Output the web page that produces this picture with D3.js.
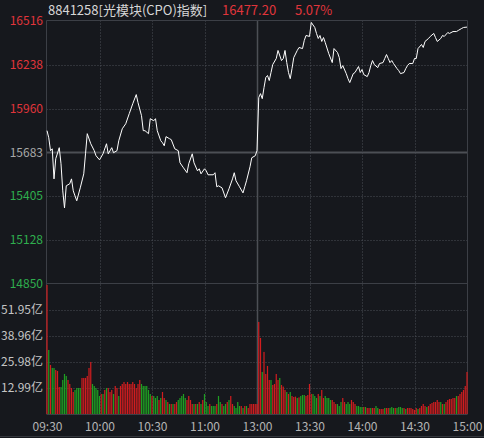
<!DOCTYPE html>
<html>
<head>
<meta charset="utf-8">
<script src="https://cdn.jsdelivr.net/npm/d3@7"></script>
<style>
  body { margin: 0; background: #16181d; }
  svg { display: block; font-family: "Noto Sans CJK SC", "Noto Sans", sans-serif; }
</style>
</head>
<body>
<script>
const code = '8841258[光模块(CPO)指数]';
const lastPrice = '16477.20';
const lastPct = '5.07%';
const prevClose = 15683;

const priceTicks = [16516, 16238, 15960, 15683, 15405, 15128, 14850];
const volTicks = [12.99, 25.98, 38.96, 51.95];
const volMax = 64.94;
const timeLabels = ['09:30', '10:00', '10:30', '11:00', '13:00', '13:30', '14:00', '14:30', '15:00'];

// intraday price
const priceTimes = [
  '09:30','09:31','09:32','09:33','09:34','09:35','09:37','09:38','09:39','09:40',
  '09:41','09:43','09:44','09:45','09:46','09:47','09:49','09:51','09:52','09:53',
  '09:55','09:57','09:58','10:00','10:02','10:04','10:05','10:07','10:08','10:10',
  '10:11','10:13','10:15','10:17','10:19','10:21','10:22','10:24','10:25','10:26',
  '10:28','10:29','10:31','10:32','10:33','10:35','10:36','10:37','10:38','10:40',
  '10:41','10:43','10:45','10:46','10:48','10:50','10:51','10:53','10:54','10:56',
  '10:57','10:58','11:00','11:01','11:02','11:05','11:06','11:07','11:08','11:10',
  '11:12','11:14','11:16','11:17','11:18','11:20','11:22','11:23','11:24','11:26',
  '11:27','11:29','11:30',
  '13:01','13:02','13:03','13:04','13:05','13:06','13:07','13:08','13:09','13:11',
  '13:12','13:14','13:15','13:16','13:17','13:18','13:19','13:20','13:21','13:23',
  '13:24','13:26','13:27','13:28','13:30','13:31','13:33','13:34','13:35','13:36',
  '13:37','13:38','13:39','13:41','13:43','13:44','13:46','13:47','13:48','13:49',
  '13:51','13:52','13:53','13:55','13:56','13:58','13:59','14:00','14:01','14:03',
  '14:04','14:05','14:06','14:07','14:09','14:10','14:12','14:13','14:14','14:15',
  '14:16','14:17','14:18','14:20','14:21','14:22','14:24','14:25','14:26','14:27',
  '14:29','14:30','14:31','14:32','14:34','14:35','14:36','14:38','14:39','14:41',
  '14:42','14:43','14:45','14:46','14:47','14:49','14:50','14:52','14:54','14:55',
  '14:57','14:58','15:00'
];
const prices = [
  15820,15775,15693,15705,15514,15642,15712,15610,15438,15330,
  15470,15483,15514,15438,15406,15375,15457,15546,15673,15801,
  15737,15693,15661,15635,15673,15737,15673,15712,15680,15693,
  15756,15832,15864,15928,15991,16049,15998,15915,15820,15820,
  15801,15896,15883,15896,15820,15756,15743,15724,15782,15769,
  15763,15705,15693,15616,15584,15553,15610,15673,15616,15565,
  15578,15546,15578,15565,15540,15540,15553,15464,15470,15457,
  15394,15451,15514,15553,15502,15464,15425,15464,15502,15591,
  15648,15661,15693,
  16030,16055,16023,16093,16157,16170,16138,16189,16240,16278,
  16329,16265,16278,16329,16252,16189,16150,16214,16284,16329,
  16348,16341,16392,16424,16418,16507,16475,16437,16405,16424,
  16386,16411,16379,16309,16252,16341,16316,16284,16214,16233,
  16182,16150,16125,16182,16189,16227,16189,16208,16176,16163,
  16189,16233,16265,16240,16220,16246,16252,16278,16303,16278,
  16252,16265,16246,16214,16201,16182,16189,16214,16233,16246,
  16246,16278,16278,16341,16367,16348,16386,16405,16418,16437,
  16411,16386,16405,16424,16418,16443,16437,16449,16449,16456,
  16469,16475,16477.2
];

// volume per minute (亿), 09:30 .. 11:30, 13:01 .. 15:00
const volumes = [
  64.5,32,24.5,23,23,22,21.5,13.5,13.5,17,
  20,19,17,15,13,11,12,13,13,13,
  18,18,18,19,23,26,15,14,13,12,
  9,10,10,12,13,13,11,12,10,14,
  13,9,14,15,16,15,16,15,15,16,
  15,13,15,17,15,14,14,14,12,10,
  9,9,8,9,7,8,11,8,7,6,
  5,5,5,5,6,7,8,9,10,8,
  7,9,7,5,5,5,5,6,5,7,
  10,6,4,5,4,4,4,5,9,6,
  5,4,5,6,7,9,5,4,3,6,
  4,4,3,4,4,3,5,5,5,5,
  5,46,38,21,31,20,24,17,17,14.5,
  15,20,17,18,14.5,13.7,12,11,10,11,
  9,8.5,8.7,8,8.3,9,9.5,9.5,9,9.5,
  15,10,10,9,8,10,9,12,8,9,
  8,8,7,7,6,5,5,4,6,8,
  6,5,6,5,7,6,5,4,4,3.5,
  3.5,3.5,3.5,3,3,3,3,3,4,3,
  2.5,2.5,2.5,3,3,3,3,3.5,3,3,
  3,3.5,3.5,3,3,2.5,3,3,3,2.5,
  2,3,2.5,3,4,5,4,3.5,4,5,
  5.5,6,6,7,6,6,5,5,6,7,
  7.5,7.5,8,8,9,9,10,11,12,14,
  21
];
// r = up minute, g = down minute
const volDir = [
  'rgrggrrrgg','ggrrrrgggg','rrrrrrgggg','grgrgrrrgr','rgrrrrrrrr',
  'rrrrgggggg','rgggrgrrgr','grgrrggggg','rrrrgrgrgr','gggrgggrgg',
  'rggrgrrggg','grgrgrrrrr','rrrgrrrrgr','rrrgrrrgrg','rrrgrgggrr',
  'rrgggrgrrg','gggrrrgggr','rgggrrrggg','grgrrgrrgg','rrrgrrgggr',
  'ggggrgrrrr','rrgrrrrgrr','rrrrrgrgrr','rrrrgrrrrr','r'
].join('');

const W = 484, H = 438;
const L = 46.5, R = 467.5, T = 20.5, MID = 283.5, B = 414;

const bg = '#16181d';
const red = '#e0353b', green = '#2fae4e';
const barRed = '#d11d1f', barGreen = '#1f9f22';
const lineCol = '#3c3f46', dotCol = '#4a4e56';

function idx(t) {
  const [h, m] = t.split(':').map(Number);
  const mins = h * 60 + m;
  return mins <= 690 ? mins - 570 : mins - 780 + 120;
}

const x = d3.scaleLinear().domain([0, 240]).range([47, 467]);
const yP = d3.scaleLinear().domain([14850, 16516]).range([MID, 21]);
const yV = d3.scaleLinear().domain([0, volMax]).range([B, 284]);

const svg = d3.select('body').append('svg').attr('width', W).attr('height', H);
svg.append('rect').attr('width', W).attr('height', H).attr('fill', bg);

// title
const title = svg.append('text').attr('y', 15).attr('font-size', 13);
title.append('tspan').attr('x', 48).attr('fill', '#d6d6d6').text(code);
title.append('tspan').attr('x', 222).attr('fill', red).text(lastPrice);
title.append('tspan').attr('x', 295).attr('fill', red).text(lastPct);

// horizontal grid
priceTicks.forEach(v => {
  const yy = Math.round(yP(v)) + 0.5;
  if (v == 16516 || v == 14850) return;
  const ln = svg.append('line').attr('x1', L).attr('x2', R).attr('y1', yy).attr('y2', yy);
  if (v == prevClose) ln.attr('stroke', '#4c4f55').attr('stroke-width', 2);
  else ln.attr('stroke', dotCol).attr('stroke-dasharray', '1,2');
});
volTicks.forEach(v => {
  const yy = Math.round(yV(v)) + 0.5;
  svg.append('line').attr('x1', L).attr('x2', R).attr('y1', yy).attr('y2', yy)
    .attr('stroke', dotCol).attr('stroke-dasharray', '1,2');
});

// vertical grid
timeLabels.forEach(t => {
  const i = idx(t);
  if (i == 0 || i == 240) return;
  const xx = Math.round(x(i)) + 0.5;
  const ln = svg.append('line').attr('x1', xx).attr('x2', xx).attr('y1', T).attr('y2', B);
  if (t == '13:00') ln.attr('stroke', '#4c4f55').attr('stroke-width', 1.5);
  else ln.attr('stroke', dotCol).attr('stroke-dasharray', '1,2');
});

// frame
svg.append('path')
  .attr('d', `M${L},${B}V${T}H${R}V${B}M${L},${MID}H${R}M${L},${B + 0.5}H${R}`)
  .attr('fill', 'none').attr('stroke', lineCol);
svg.append('line').attr('x1', 0).attr('x2', W).attr('y1', 436.5).attr('y2', 436.5)
  .attr('stroke', '#34373d');

// volume bars
svg.append('g').selectAll('rect')
  .data(volumes)
  .enter()
  .append('rect')
  .attr('x', (d, i) => x(i) - 0.6)
  .attr('y', d => yV(d))
  .attr('width', 1.2)
  .attr('height', d => B - yV(d))
  .attr('fill', (d, i) => volDir[i] == 'r' ? barRed : barGreen);

// price line
const pts = priceTimes.map((t, i) => ({ i: idx(t), p: prices[i] }));
svg.append('path')
  .datum(pts)
  .attr('d', d3.line().x(d => x(d.i)).y(d => yP(d.p)))
  .attr('fill', 'none')
  .attr('stroke', '#ffffff')
  .attr('stroke-width', 1);

// price axis
const pa = svg.append('g').attr('transform', `translate(${L},0)`)
  .call(d3.axisLeft(yP).tickValues(priceTicks).tickSize(0).tickPadding(3.5).tickFormat(d => d));
pa.select('.domain').remove();
pa.selectAll('text')
  .attr('font-size', 12).attr('font-family', '"Noto Sans CJK SC", sans-serif')
  .attr('fill', d => d > prevClose ? red : d < prevClose ? green : '#a8a8a8');

// volume axis
const va = svg.append('g').attr('transform', `translate(${L},0)`)
  .call(d3.axisLeft(yV).tickValues(volTicks).tickSize(0).tickPadding(3.5).tickFormat(d => d.toFixed(2) + '亿'));
va.select('.domain').remove();
va.selectAll('text')
  .attr('font-size', 12).attr('font-family', '"Noto Sans CJK SC", sans-serif')
  .attr('fill', '#c4c4c4');

// time axis
const ta = svg.append('g').attr('transform', `translate(0,${B})`)
  .call(d3.axisBottom(x).tickValues(timeLabels.map(idx)).tickSize(0).tickPadding(8)
    .tickFormat((d, i) => timeLabels[i]));
ta.select('.domain').remove();
ta.selectAll('text')
  .attr('font-size', 12).attr('font-family', '"Noto Sans CJK SC", sans-serif')
  .attr('fill', '#b4b4b4');
</script>
</body>
</html>
